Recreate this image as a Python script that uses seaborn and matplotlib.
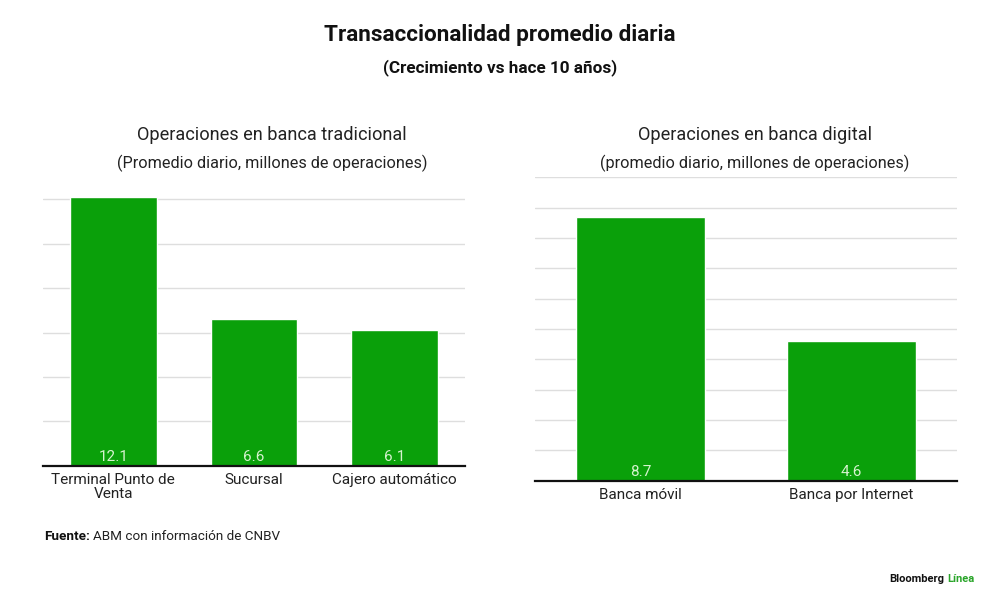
import matplotlib
matplotlib.use('Agg')
import matplotlib.pyplot as plt
import seaborn as sns
import pandas as pd

# data
trad_labels = ['Terminal Punto de\nVenta', 'Sucursal', 'Cajero automático']
trad_values = [12.1, 6.6, 6.1]
dig_labels = ['Banca móvil', 'Banca por Internet']
dig_values = [8.7, 4.6]

green = '#0aa00a'
label_green = '#d6f3cf'
grid_col = '#dedede'

sns.set_style('white')
plt.rcParams['font.family'] = ['Roboto', 'DejaVu Sans']

fig = plt.figure(figsize=(10, 6.06), dpi=100)
ax1 = fig.add_axes([0.043, 0.2315, 0.422, 0.443])
ax2 = fig.add_axes([0.535, 0.2068, 0.422, 0.5007])


def draw(ax, labels, values, ymax, step):
    df = pd.DataFrame({'cat': labels, 'val': values})
    sns.barplot(data=df, x='cat', y='val', color=green, saturation=1,
                width=0.615, ax=ax, zorder=3)
    ax.set_ylim(0, ymax)
    ax.set_xlim(-0.5, len(labels) - 0.5)
    ax.set_yticks([i * step for i in range(1, int(ymax // step) + 1)])
    ax.yaxis.grid(True, color=grid_col, linewidth=1, zorder=0)
    ax.set_yticklabels([])
    ax.tick_params(axis='y', length=0)
    ax.tick_params(axis='x', length=0, pad=5, labelsize=11, labelcolor='#222222')
    ax.set_xlabel('')
    ax.set_ylabel('')
    for s in ['top', 'right', 'left']:
        ax.spines[s].set_visible(False)
    ax.spines['bottom'].set_color('#111111')
    ax.spines['bottom'].set_linewidth(1.6)
    ax.spines['bottom'].set_zorder(5)
    for i, v in enumerate(values):
        ax.text(i, 0.006 * ymax, f'{v}', ha='center', va='bottom',
                color=label_green, fontsize=11, zorder=6)
    for lab in ax.get_xticklabels():
        lab.set_linespacing(1.0)


draw(ax1, trad_labels, trad_values, 12.1, 2)
draw(ax2, dig_labels, dig_values, 10, 1)

# titles
fig.text(0.5, 1 - 35 / 606, 'Transaccionalidad promedio diaria', ha='center', va='center',
         fontsize=16.2, fontweight='bold', color='#111111')
fig.text(0.5, 1 - 68 / 606, '(Crecimiento vs hace 10 años)', ha='center', va='center',
         fontsize=12.3, fontweight='bold', color='#111111')

fig.text(0.272, 1 - 135 / 606, 'Operaciones en banca tradicional', ha='center', va='center',
         fontsize=13.1, color='#222222')
fig.text(0.272, 1 - 163 / 606, '(Promedio diario, millones de operaciones)', ha='center',
         va='center', fontsize=11.7, color='#222222')
fig.text(0.755, 1 - 135 / 606, 'Operaciones en banca digital', ha='center', va='center',
         fontsize=13.1, color='#222222')
fig.text(0.755, 1 - 163 / 606, '(promedio diario, millones de operaciones)', ha='center',
         va='center', fontsize=11.7, color='#222222')

# footer
t = fig.text(0.044, 1 - 537 / 606, 'Fuente:', ha='left', va='center', fontsize=9.7,
             fontweight='bold', color='#111111')
fig.canvas.draw()
bb = t.get_window_extent()
x2 = fig.transFigure.inverted().transform((bb.x1 + 3, 0))[0]
fig.text(x2, 1 - 537 / 606, 'ABM con información de CNBV', ha='left', va='center',
         fontsize=9.7, color='#222222')

t2 = fig.text(0.974, 1 - 579 / 606, 'Línea', ha='right', va='center', fontsize=8,
              fontweight='bold', color='#2aa52a')
fig.canvas.draw()
bb2 = t2.get_window_extent()
x3 = fig.transFigure.inverted().transform((bb2.x0 - 3, 0))[0]
fig.text(x3, 1 - 579 / 606, 'Bloomberg', ha='right', va='center', fontsize=8,
         fontweight='bold', color='#111111')

fig.savefig('out.png', dpi=100)
